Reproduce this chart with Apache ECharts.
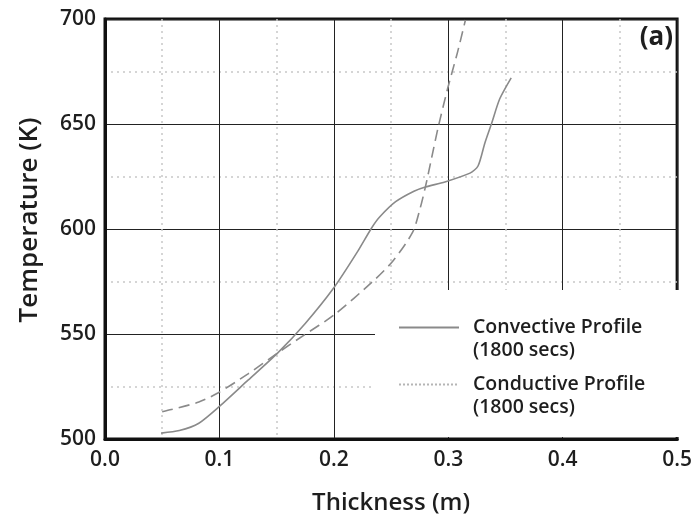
<!DOCTYPE html>
<html>
<head>
<meta charset="UTF-8" />
<title>Temperature vs thickness</title>
<script src="https://cdn.jsdelivr.net/npm/echarts@6/dist/echarts.min.js"></script>
<style>
  html, body { margin: 0; padding: 0; background: #fff; }
  #main { width: 695px; height: 524px; }
</style>
</head>
<body>
<div id="main"></div>
<script>
// values: [thickness (m), temperature (K)]
var convective = [
    [0.049, 502.8], [0.065, 504], [0.082, 507.5], [0.100, 515.5], [0.125, 528],
    [0.151, 541], [0.175, 555], [0.200, 572], [0.220, 588.6], [0.233, 600.5],
    [0.240, 605.7], [0.254, 613], [0.270, 618], [0.280, 620], [0.297, 622.4],
    [0.319, 626.6], [0.326, 630], [0.332, 641], [0.338, 650.5], [0.345, 662],
    [0.355, 672]
];
var conductive = [
    [0.050, 513], [0.058, 514], [0.082, 517.6], [0.099, 522], [0.125, 531],
    [0.151, 541], [0.174, 549.5], [0.200, 559], [0.234, 575], [0.252, 585],
    [0.269, 598.6], [0.2755, 610], [0.280, 620], [0.2855, 634], [0.291, 648],
    [0.2995, 667], [0.308, 684], [0.315, 699.5]
];
var seriesNames = ['Convective Profile', 'Conductive Profile'];
var xTicks = ['0.0', '0.1', '0.2', '0.3', '0.4', '0.5'];

var font = 'Open Sans';
var ink = '#1e1e1e';
var legendText = {
    fontFamily: font, fontWeight: 600, fontSize: 19.5, color: ink,
    lineHeight: 23, padding: [0, 0, 0, 9]
};
// leading blank line keeps the icon level with the first text line
function legendLabel(n) { return ' \n' + n + '\n(1800 secs)'; }

var chart = echarts.init(document.getElementById('main'));

var option = {
    animation: false,
    backgroundColor: '#fff',
    grid: {
        left: 105, right: 10, top: 19, bottom: 85,
        show: true, borderColor: '#111', borderWidth: 3
    },
    legend: [{
        left: 398, top: 293, padding: 0,
        itemWidth: 60, itemHeight: 14,
        data: [{
            name: seriesNames[0],
            itemStyle: { opacity: 0 },
            lineStyle: { color: '#8a8a8a', width: 2, type: 'solid' }
        }],
        formatter: legendLabel,
        textStyle: legendText
    }, {
        left: 398, top: 350, padding: 0,
        itemWidth: 60, itemHeight: 14,
        data: [{
            name: seriesNames[1],
            itemStyle: { opacity: 0 },
            lineStyle: { color: '#b5b5b5', width: 2, type: [2, 2] }
        }],
        formatter: legendLabel,
        textStyle: legendText
    }],
    graphic: [{
        type: 'rect', z: 1,
        shape: { x: 375, y: 290, width: 308, height: 147 },
        style: { fill: '#fff' }
    }, {
        type: 'text', right: 22, top: 25, z: 5,
        style: { text: '(a)', fontFamily: font, fontWeight: 'bold', fontSize: 26, fill: ink }
    }],
    xAxis: {
        type: 'value', min: 0, max: 0.5, interval: 0.1,
        name: 'Thickness (m)', nameLocation: 'middle', nameGap: 52,
        nameTextStyle: { fontFamily: font, fontWeight: 600, fontSize: 24, color: ink },
        axisLine: { show: true, lineStyle: { color: '#111', width: 3 } },
        axisTick: { show: false },
        axisLabel: {
            margin: 11, fontFamily: font, fontWeight: 600, fontSize: 21, color: ink,
            formatter: function (v) { return xTicks[Math.round(v * 10)]; }
        },
        splitLine: { show: true, lineStyle: { color: '#222', width: 1 } },
        minorTick: { show: false, splitNumber: 2 },
        minorSplitLine: { show: true, lineStyle: { color: '#c8c8c8', width: 1.5, type: [2, 4] } }
    },
    yAxis: {
        type: 'value', min: 500, max: 700, interval: 50,
        name: 'Temperature (K)', nameLocation: 'middle', nameGap: 62,
        nameTextStyle: { fontFamily: font, fontWeight: 600, fontSize: 26, color: ink, padding: [0, 0, 0, 18] },
        axisLine: { show: true, lineStyle: { color: '#111', width: 3 } },
        axisTick: { show: false },
        axisLabel: { margin: 9, fontFamily: font, fontWeight: 600, fontSize: 21, color: ink },
        splitLine: { show: true, lineStyle: { color: '#222', width: 1 } },
        minorTick: { show: false, splitNumber: 2 },
        minorSplitLine: { show: true, lineStyle: { color: '#c8c8c8', width: 1.5, type: [2, 4] } }
    },
    series: [{
        name: seriesNames[0], type: 'line', data: convective,
        showSymbol: false, symbol: 'none', smooth: 0.25,
        itemStyle: { color: '#8a8a8a' },
        lineStyle: { color: '#8a8a8a', width: 1.6 }
    }, {
        name: seriesNames[1], type: 'line', data: conductive,
        showSymbol: false, symbol: 'none', smooth: 0.25,
        itemStyle: { color: '#8a8a8a' },
        lineStyle: { color: '#8a8a8a', width: 1.6, type: [11, 6] }
    }]
};

chart.setOption(option);
</script>
</body>
</html>
